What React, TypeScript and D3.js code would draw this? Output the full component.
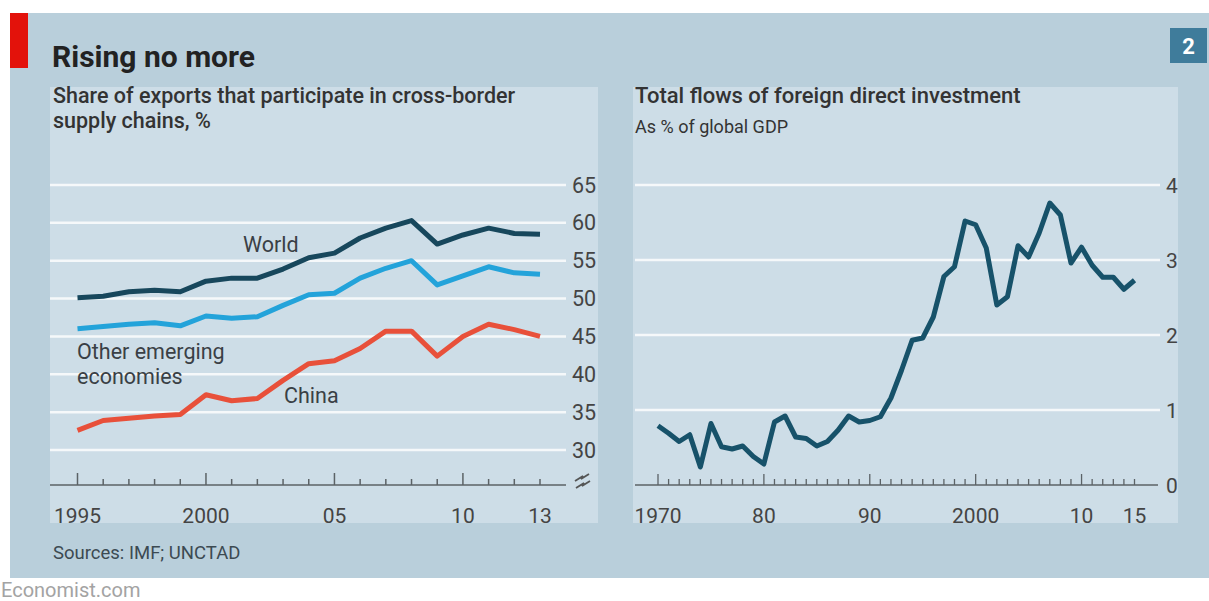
import React, { useEffect, useRef } from 'react';
import * as d3 from 'd3';

// Left panel: share of exports in cross-border supply chains, %
const chainYears = [1995, 1996, 1997, 1998, 1999, 2000, 2001, 2002, 2003, 2004, 2005, 2006, 2007, 2008, 2009, 2010, 2011, 2012, 2013];
const world = [50.1, 50.3, 50.9, 51.1, 50.9, 52.3, 52.7, 52.7, 53.9, 55.4, 56.0, 58.0, 59.3, 60.3, 57.2, 58.4, 59.3, 58.6, 58.5];
const otherEmerging = [46.0, 46.3, 46.6, 46.8, 46.4, 47.7, 47.4, 47.6, 49.1, 50.5, 50.7, 52.7, 54.0, 55.0, 51.8, 53.0, 54.2, 53.4, 53.2];
const china = [32.6, 33.9, 34.2, 34.5, 34.7, 37.3, 36.5, 36.8, 39.2, 41.4, 41.8, 43.4, 45.7, 45.7, 42.4, 45.0, 46.6, 45.9, 45.0];
const chainTicks = [30, 35, 40, 45, 50, 55, 60, 65];
const chainXLabels = [
    { year: 1995, label: '1995' },
    { year: 2000, label: '2000' },
    { year: 2005, label: '05' },
    { year: 2010, label: '10' },
    { year: 2013, label: '13' },
];

// Right panel: FDI flows, % of global GDP
const fdiYears = [1970, 1971, 1972, 1973, 1974, 1975, 1976, 1977, 1978, 1979,
    1980, 1981, 1982, 1983, 1984, 1985, 1986, 1987, 1988, 1989,
    1990, 1991, 1992, 1993, 1994, 1995, 1996, 1997, 1998, 1999,
    2000, 2001, 2002, 2003, 2004, 2005, 2006, 2007, 2008, 2009,
    2010, 2011, 2012, 2013, 2014, 2015];
const fdi = [0.79, 0.69, 0.58, 0.67, 0.24, 0.82, 0.51, 0.48, 0.52, 0.38,
    0.28, 0.84, 0.92, 0.64, 0.62, 0.52, 0.58, 0.73, 0.92, 0.84,
    0.86, 0.91, 1.16, 1.53, 1.93, 1.96, 2.24, 2.78, 2.91, 3.52,
    3.47, 3.16, 2.40, 2.51, 3.19, 3.04, 3.36, 3.76, 3.60, 2.96,
    3.17, 2.93, 2.77, 2.77, 2.61, 2.73];
const fdiTicks = [0, 1, 2, 3, 4];
const fdiXLabels = [
    { year: 1970, label: '1970' },
    { year: 1980, label: '80' },
    { year: 1990, label: '90' },
    { year: 2000, label: '2000' },
    { year: 2010, label: '10' },
    { year: 2015, label: '15' },
];

const FONT = 'Roboto, "Open Sans", sans-serif';

function App() {
    const ref = useRef<SVGSVGElement>(null);

    useEffect(() => {
        const svg = d3.select(ref.current);
        svg.selectAll('*').remove();

        // backgrounds
        svg.append('rect').attr('x', 10).attr('y', 13).attr('width', 1199).attr('height', 565).attr('fill', '#b9cfdb');
        svg.append('rect').attr('x', 10).attr('y', 13).attr('width', 18).attr('height', 55).attr('fill', '#e3120b');
        svg.append('rect').attr('x', 50).attr('y', 87).attr('width', 548).attr('height', 436).attr('fill', '#cddde7');
        svg.append('rect').attr('x', 633).attr('y', 87).attr('width', 545).attr('height', 436).attr('fill', '#cddde7');

        // badge
        svg.append('rect').attr('x', 1170).attr('y', 28).attr('width', 37).attr('height', 35).attr('fill', '#3f7c9b');
        svg.append('text').attr('x', 1188.5).attr('y', 54).attr('text-anchor', 'middle')
            .style('font-family', FONT).style('font-weight', 700).style('font-size', '22px').style('fill', '#ffffff').text('2');

        // titles
        svg.append('text').attr('x', 52).attr('y', 67)
            .style('font-family', FONT).style('font-weight', 700).style('font-size', '30px').style('fill', '#222').text('Rising no more');
        const sub = (x: number, y: number, t: string, size: number, weight: number) =>
            svg.append('text').attr('x', x).attr('y', y)
                .style('font-family', FONT).style('font-weight', weight).style('font-size', size + 'px').style('fill', '#333').text(t);
        sub(53, 103, 'Share of exports that participate in cross-border', 21.5, 500);
        sub(53, 128, 'supply chains, %', 21.5, 500);
        sub(635, 103, 'Total flows of foreign direct investment', 22, 500);
        sub(635, 133, 'As % of global GDP', 18, 400);

        svg.append('text').attr('x', 53).attr('y', 559)
            .style('font-family', FONT).style('font-size', '18.5px').style('fill', '#3c4a52').text('Sources: IMF; UNCTAD');
        svg.append('text').attr('x', 1).attr('y', 597)
            .style('font-family', FONT).style('font-size', '20px').style('fill', '#a3a3a3').text('Economist.com');

        // ---- left chart ----
        const x1 = d3.scaleLinear().domain([1995, 2013]).range([77.5, 540]);
        const y1 = d3.scaleLinear().domain([30, 65]).range([450, 185]);
        const base1 = 485;

        const g1 = svg.append('g');
        g1.selectAll('line.grid').data(chainTicks).enter().append('line')
            .attr('x1', 50).attr('x2', 566).attr('y1', (d) => y1(d)).attr('y2', (d) => y1(d))
            .attr('stroke', '#f5f8fa').attr('stroke-width', 2.5);
        g1.selectAll('text.ytick').data(chainTicks).enter().append('text')
            .attr('x', 572).attr('y', (d) => y1(d) + 7.5)
            .style('font-family', FONT).style('font-size', '21.5px').style('fill', '#444').text((d) => d);

        g1.append('line').attr('x1', 50).attr('x2', 566).attr('y1', base1).attr('y2', base1)
            .attr('stroke', '#5b6266').attr('stroke-width', 1.5);
        g1.selectAll('line.xtick').data(chainYears).enter().append('line')
            .attr('x1', (d) => x1(d)).attr('x2', (d) => x1(d))
            .attr('y1', base1).attr('y2', (d) => base1 - (d % 5 === 0 ? 12 : 6))
            .attr('stroke', '#5b6266').attr('stroke-width', 1.5);
        g1.selectAll('text.xlab').data(chainXLabels).enter().append('text')
            .attr('x', (d) => x1(d.year)).attr('y', 523).attr('text-anchor', 'middle')
            .style('font-family', FONT).style('font-size', '21px').style('fill', '#444').text((d) => d.label);

        // axis break mark
        g1.append('path').attr('d', 'M575,481 L583,476 L581,479 L589,474 M576,488 L584,483 L582,486 L590,481')
            .attr('fill', 'none').attr('stroke', '#555').attr('stroke-width', 1.8);

        const line1 = d3.line<number>().x((_, i) => x1(chainYears[i])).y((d) => y1(d)).curve(d3.curveLinear);
        const series = [
            { values: china, color: '#e8503a' },
            { values: otherEmerging, color: '#23a3da' },
            { values: world, color: '#17475c' },
        ];
        series.forEach((s) => {
            g1.append('path').attr('d', line1(s.values)).attr('fill', 'none')
                .attr('stroke', s.color).attr('stroke-width', 5).attr('stroke-linejoin', 'round').attr('stroke-linecap', 'butt');
        });

        const lab = (x: number, y: number, t: string) =>
            g1.append('text').attr('x', x).attr('y', y)
                .style('font-family', FONT).style('font-size', '21.5px').style('fill', '#3a4045').text(t);
        lab(243, 252, 'World');
        lab(77, 359, 'Other emerging');
        lab(77, 384, 'economies');
        lab(284, 403, 'China');

        // ---- right chart ----
        const x2 = d3.scaleLinear().domain([1970, 2015]).range([658, 1134.5]);
        const y2 = d3.scaleLinear().domain([0, 4]).range([485, 185]);
        const g2 = svg.append('g');

        g2.selectAll('line.grid').data(fdiTicks.filter((d) => d > 0)).enter().append('line')
            .attr('x1', 635).attr('x2', 1160).attr('y1', (d) => y2(d)).attr('y2', (d) => y2(d))
            .attr('stroke', '#f5f8fa').attr('stroke-width', 2.5);
        g2.append('line').attr('x1', 635).attr('x2', 1158).attr('y1', y2(0)).attr('y2', y2(0))
            .attr('stroke', '#5b6266').attr('stroke-width', 1.5);
        g2.selectAll('text.ytick').data(fdiTicks).enter().append('text')
            .attr('x', 1166).attr('y', (d) => y2(d) + 7.5)
            .style('font-family', FONT).style('font-size', '21px').style('fill', '#444').text((d) => d);

        g2.selectAll('line.xtick').data(fdiYears).enter().append('line')
            .attr('x1', (d) => x2(d)).attr('x2', (d) => x2(d))
            .attr('y1', y2(0)).attr('y2', (d) => y2(0) - (d % 10 === 0 ? 11 : 6))
            .attr('stroke', '#5b6266').attr('stroke-width', 1.3);
        g2.selectAll('text.xlab').data(fdiXLabels).enter().append('text')
            .attr('x', (d) => x2(d.year)).attr('y', 523).attr('text-anchor', 'middle')
            .style('font-family', FONT).style('font-size', '21px').style('fill', '#444').text((d) => d.label);

        const line2 = d3.line<number>().x((_, i) => x2(fdiYears[i])).y((d) => y2(d));
        g2.append('path').attr('d', line2(fdi)).attr('fill', 'none')
            .attr('stroke', '#17526a').attr('stroke-width', 5).attr('stroke-linejoin', 'round');
    }, []);

    return (
        <svg ref={ref} width={1209} height={601} style={{ position: 'absolute', left: 0, top: 0, background: '#ffffff' }} />
    );
}

export default App;
